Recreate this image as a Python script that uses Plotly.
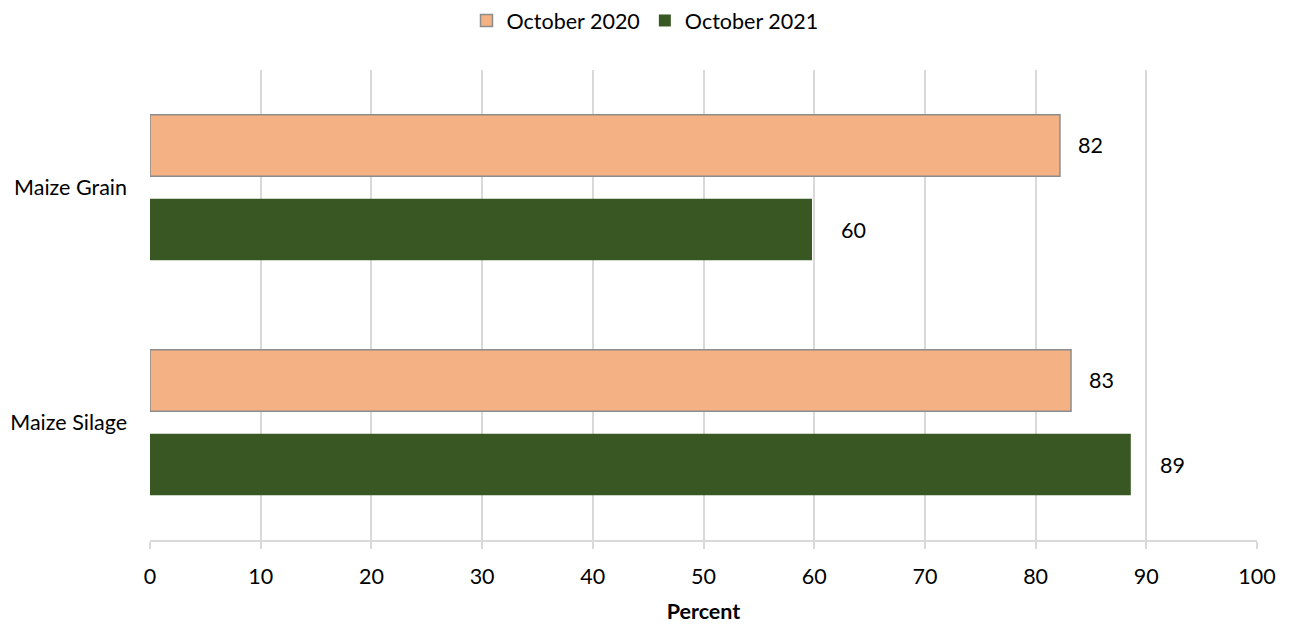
import plotly.graph_objects as go

categories = ["Maize Grain", "Maize Silage"]
series_names = ["October 2020", "October 2021"]
values_2020 = [82.2, 83.2]
values_2021 = [59.8, 88.6]
x_ticks = [0, 10, 20, 30, 40, 50, 60, 70, 80, 90, 100]

FONT = "Lato, Carlito, Calibri, sans-serif"
FS = 21.5
C2020 = "#F4B183"
C2021 = "#385723"
BARGAP = 0.285
GROUPGAP = 0.27

fig = go.Figure()
fig.add_trace(go.Bar(
    y=categories, x=values_2020, name=series_names[0], orientation="h",
    marker=dict(color=C2020, line=dict(color="#8c8c8c", width=1.5)),
))
fig.add_trace(go.Bar(
    y=categories, x=values_2021, name=series_names[1], orientation="h",
    marker=dict(color=C2021, line=dict(width=0)),
))

# value labels (positioned through the data axes)
label_sets = [(values_2020, 16, -1), (values_2021, 27, 1)]
for vals, shift, side in label_sets:
    for i, v in enumerate(vals):
        fig.add_annotation(
            x=v, y=i + side * 0.25 * (1 - BARGAP),
            xref="x", yref="y", text=f"{v:.0f}", showarrow=False,
            xanchor="left", yanchor="middle", xshift=shift,
            font=dict(family=FONT, size=FS, color="#000000"),
        )

fig.update_layout(
    width=1290, height=624,
    margin=dict(l=150, r=33, t=70, b=84, autoexpand=False),
    paper_bgcolor="white", plot_bgcolor="white",
    barmode="group", bargap=BARGAP, bargroupgap=GROUPGAP,
    font=dict(family=FONT, size=FS, color="#000000"),
    showlegend=True,
    legend=dict(
        orientation="h", xref="container", yref="container",
        x=0.5, xanchor="center", y=1.0, yanchor="top",
        font=dict(family=FONT, size=FS), traceorder="normal",
        itemclick=False,
    ),
    xaxis=dict(
        range=[0, 100], tickvals=x_ticks, ticktext=[str(t) for t in x_ticks],
        showgrid=True, gridcolor="#d9d9d9", gridwidth=1.5,
        showline=True, linecolor="#d9d9d9", linewidth=1.5,
        ticks="outside", ticklen=7, tickcolor="#d9d9d9", tickwidth=1.5,
        zeroline=False, ticklabelstandoff=9, automargin=False,
        title=dict(text="<b>Percent</b>", font=dict(family=FONT, size=FS), standoff=16),
        tickfont=dict(family=FONT, size=FS),
    ),
    yaxis=dict(
        categoryorder="array", categoryarray=categories,
        range=[1.5, -0.5], showgrid=False, showline=False, zeroline=False,
        ticks="", ticklabelstandoff=22, automargin=False,
        tickfont=dict(family=FONT, size=FS),
    ),
)

fig.write_html("out.html")
